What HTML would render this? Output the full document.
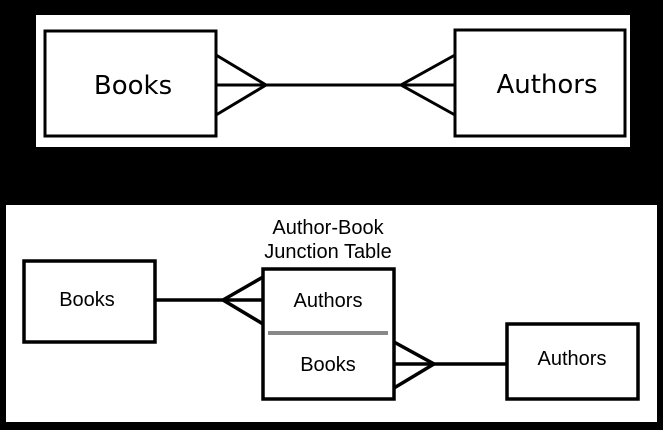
<!DOCTYPE html>
<html><head><style>body{margin:0;background:#000;}svg{display:block}</style></head>
<body>
<svg width="663" height="430" xmlns="http://www.w3.org/2000/svg" font-family="Liberation Sans, sans-serif">
<rect width="663" height="430" fill="#000"/>
<rect x="36" y="15" width="594" height="132" fill="#fff"/>
<g stroke="#000" stroke-width="3" fill="none">
<rect x="45" y="31" width="171" height="105"/>
<rect x="455" y="30" width="170" height="106"/>
<line x1="216" y1="85" x2="455" y2="85"/>
<polyline points="216,55 266,85 216,115"/>
<polyline points="455,55 401,85 455,115"/>
</g>
<text x="133" y="94" font-family="DejaVu Sans, sans-serif" font-size="26" text-anchor="middle">Books</text>
<text x="547" y="93" font-family="DejaVu Sans, sans-serif" font-size="26" text-anchor="middle">Authors</text>

<rect x="6" y="205" width="651" height="217" fill="#fff"/>
<g stroke="#000" stroke-width="3.5" fill="none">
<rect x="24" y="261" width="131" height="81"/>
<rect x="263" y="269" width="131" height="130"/>
<rect x="507" y="324" width="131" height="75"/>
<line x1="155" y1="300" x2="263" y2="300"/>
<polyline points="263,277 223,300 263,324"/>
<line x1="394" y1="364" x2="507" y2="364"/>
<polyline points="394,342 434,364 394,388"/>
</g>
<line x1="268" y1="333" x2="388" y2="333" stroke="#888" stroke-width="4"/>
<g font-size="20" text-anchor="middle" fill="#000">
<text x="328" y="234">Author-Book</text>
<text x="328" y="258">Junction Table</text>
<text x="87" y="306">Books</text>
<text x="328" y="307">Authors</text>
<text x="328" y="371">Books</text>
<text x="572" y="365">Authors</text>
</g>
</svg>
</body></html>
